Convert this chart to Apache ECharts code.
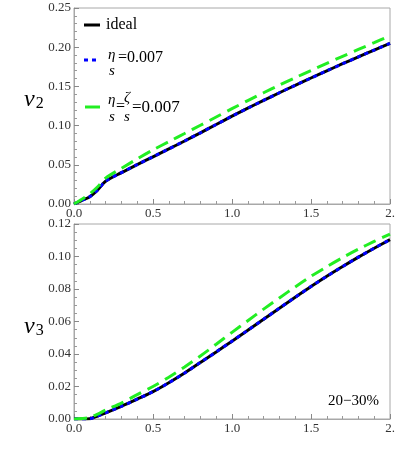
<!DOCTYPE html>
<html><head><meta charset="utf-8">
<script src="https://cdn.jsdelivr.net/npm/echarts@6/dist/echarts.min.js"></script>
<style>html,body{margin:0;padding:0;background:#fff}#c{width:415px;height:453px}</style>
</head><body><div id="c"></div>
<script>
const xs = [0, 0.05, 0.1, 0.15, 0.2, 0.3, 0.4, 0.5, 0.6, 0.7, 0.8, 0.9, 1.0, 1.1, 1.2, 1.3, 1.4, 1.5, 1.6, 1.7, 1.8, 1.9, 2.0];
const v2Ideal   = [0, 0.0045, 0.0093, 0.018, 0.029, 0.040, 0.0502, 0.0602, 0.0702, 0.0804, 0.0908, 0.1014, 0.112, 0.1222, 0.1322, 0.1419, 0.1514, 0.1607, 0.1699, 0.1789, 0.1877, 0.1964, 0.205];
const v2Eta     = [0, 0.0045, 0.0093, 0.018, 0.029, 0.040, 0.0502, 0.0602, 0.0702, 0.0804, 0.0908, 0.1014, 0.112, 0.1222, 0.1322, 0.1419, 0.1514, 0.1607, 0.1699, 0.1789, 0.1877, 0.1964, 0.205];
const v2EtaZeta = [0, 0.0062, 0.013, 0.022, 0.033, 0.0455, 0.0575, 0.069, 0.0795, 0.0899, 0.1004, 0.111, 0.1216, 0.1319, 0.1419, 0.1516, 0.1611, 0.1703, 0.1795, 0.1884, 0.1972, 0.2058, 0.2145];
const v3Ideal   = [0, 0, 0.0002, 0.0018, 0.0038, 0.0078, 0.0122, 0.0168, 0.0223, 0.0283, 0.0348, 0.0413, 0.0479, 0.0546, 0.0614, 0.0682, 0.0749, 0.0815, 0.0878, 0.0938, 0.0996, 0.1051, 0.1104];
const v3Eta     = [0, 0, 0.0002, 0.0018, 0.0038, 0.0078, 0.0122, 0.0168, 0.0223, 0.0283, 0.0348, 0.0413, 0.0479, 0.0546, 0.0614, 0.0682, 0.0749, 0.0815, 0.0878, 0.0938, 0.0996, 0.1051, 0.1104];
const v3EtaZeta = [0, 0.0003, 0.001, 0.003, 0.0055, 0.0098, 0.015, 0.020, 0.0257, 0.032, 0.0388, 0.046, 0.0533, 0.0605, 0.0676, 0.0745, 0.0813, 0.0878, 0.0937, 0.0993, 0.1045, 0.1093, 0.1138];
const xTicks = ['0.0', '0.5', '1.0', '1.5', '2.'];
const legendNames = ['ideal', 'η/s=0.007', 'η/s=ζ/s=0.007'];
const panelLabel = '20−30%';

const pair = (ys) => xs.map((x, i) => [x, ys[i]]);
const serif = 'Liberation Serif';
const gray = '#a8a8a8';

function xAxisCfg(idx) {
  return {
    type: 'value', gridIndex: idx, min: 0, max: 2, interval: 0.5,
    axisLine: { show: true, lineStyle: { color: gray, width: 1 } },
    axisTick: { show: true, inside: true, length: 5, lineStyle: { color: '#888' } },
    minorTick: { show: true, splitNumber: 5, length: 3, lineStyle: { color: '#999' } },
    splitLine: { show: false },
    axisLabel: { margin: 3, color: '#333', fontFamily: serif, fontSize: 13,
      formatter: (v) => xTicks[Math.round(v / 0.5)] }
  };
}
function yAxisCfg(idx, max, interval, minorSplit) {
  return {
    type: 'value', gridIndex: idx, min: 0, max: max, interval: interval,
    axisLine: { show: true, lineStyle: { color: gray, width: 1 } },
    axisTick: { show: true, inside: true, length: 5, lineStyle: { color: '#888' } },
    minorTick: { show: true, splitNumber: minorSplit, length: 3, lineStyle: { color: '#999' } },
    splitLine: { show: false },
    axisLabel: { margin: 3, color: '#333', fontFamily: serif, fontSize: 13,
      formatter: (v) => v.toFixed(2) }
  };
}
function seriesSet(idx, a, b, c) {
  const base = { type: 'line', xAxisIndex: idx, yAxisIndex: idx, showSymbol: false, smooth: 0.3 };
  return [
    Object.assign({}, base, { name: legendNames[0], data: pair(a), lineStyle: { color: '#000', width: 3 }, z: 2 }),
    Object.assign({}, base, { name: legendNames[1], data: pair(b), lineStyle: { color: '#0000ff', width: 3, type: [4, 4] }, z: 3 }),
    Object.assign({}, base, { name: legendNames[2], data: pair(c), lineStyle: { color: '#22ee22', width: 3, type: [13, 7] }, z: 4 })
  ];
}

const chart = echarts.init(document.getElementById('c'), null, { renderer: 'canvas' });
const T = (x, y, t, font) => ({ type: 'text', left: x, top: y, style: { text: t, font: font, fill: '#000' } });
chart.setOption({
  animation: false,
  backgroundColor: '#fff',
  grid: [
    { left: 74, right: 25, top: 8, height: 196, show: true, borderColor: gray, borderWidth: 1 },
    { left: 74, right: 25, top: 224, height: 195, show: true, borderColor: gray, borderWidth: 1 }
  ],
  xAxis: [xAxisCfg(0), xAxisCfg(1)],
  yAxis: [yAxisCfg(0, 0.25, 0.05, 5), yAxisCfg(1, 0.12, 0.02, 4)],
  series: seriesSet(0, v2Ideal, v2Eta, v2EtaZeta).concat(seriesSet(1, v3Ideal, v3Eta, v3EtaZeta)),
  graphic: [
    // legend
    { type: 'line', shape: { x1: 84, y1: 25, x2: 100, y2: 25 }, style: { stroke: '#000', lineWidth: 3 } },
    T(106, 17, 'ideal', '16px ' + serif),
    { type: 'line', shape: { x1: 84, y1: 60, x2: 100, y2: 60 }, style: { stroke: '#0000ff', lineWidth: 3, lineDash: [4, 4] } },
    T(108, 48, 'η', 'italic 15px ' + serif),
    T(109, 64, 's', 'italic 15px ' + serif),
    T(118, 50, '=0.007', '16px ' + serif),
    { type: 'line', shape: { x1: 85, y1: 107, x2: 100, y2: 107 }, style: { stroke: '#22ee22', lineWidth: 3 } },
    T(108, 93, 'η', 'italic 15px ' + serif),
    T(109, 110, 's', 'italic 15px ' + serif),
    T(116, 99, '=', '16px ' + serif),
    T(124, 91, 'ζ', 'italic 15px ' + serif),
    T(124, 110, 's', 'italic 15px ' + serif),
    T(132, 99, '=0.007', '17px ' + serif),
    // axis names
    { type: 'text', left: 24, top: 88, style: { text: '{v|v}{s|2}', rich: {
      v: { font: 'italic 24px ' + serif, fill: '#000' }, s: { font: '16px ' + serif, fill: '#000', padding: [8, 0, 0, 1] } } } },
    { type: 'text', left: 24, top: 315, style: { text: '{v|v}{s|3}', rich: {
      v: { font: 'italic 24px ' + serif, fill: '#000' }, s: { font: '16px ' + serif, fill: '#000', padding: [8, 0, 0, 1] } } } },
    T(328, 394, panelLabel, '15px ' + serif)
  ]
});
</script></body></html>
